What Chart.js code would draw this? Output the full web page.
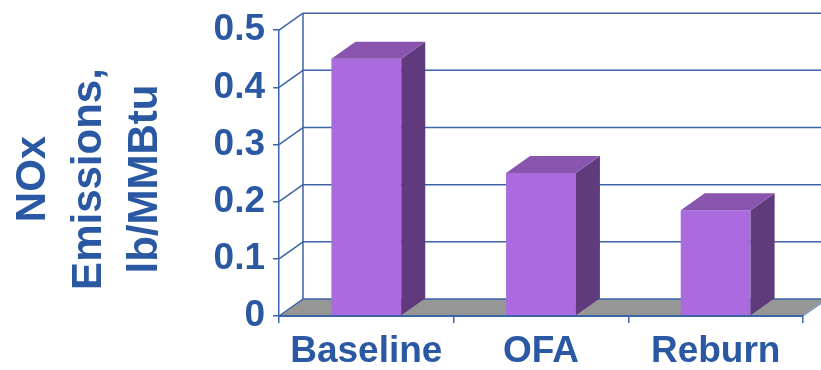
<!DOCTYPE html>
<html lang="en">
<head>
<meta charset="UTF-8">
<title>NOx Emissions</title>
<script src="https://cdn.jsdelivr.net/npm/chart.js"></script>
<style>
  body { margin: 0; background: #fff; }
</style>
</head>
<body>
<canvas id="noxChart" width="821" height="370"></canvas>
<script>
    const categories = ["Baseline", "OFA", "Reburn"];
    const noxValues = [0.45, 0.25, 0.185];
    const yTitleLines = ["NOx", "Emissions,", "lb/MMBtu"];
    const yMin = 0, yMax = 0.5, yStep = 0.1;

    const BLUE = "#2b58a3";
    const LINE = "#3d63a8";
    const depth = { dx: 24, dy: 17 }; // 3D offset of the back wall

    // walls, floor and the rotated axis title go under everything
    const wallsPlugin = {
        id: "walls",
        beforeDraw(chart) {
            const { ctx, chartArea: a, scales: { y } } = chart;
            const dx = depth.dx, dy = depth.dy;
            ctx.save();

            // grey floor
            ctx.fillStyle = "#969696";
            ctx.beginPath();
            ctx.moveTo(a.left, a.bottom);
            ctx.lineTo(a.right, a.bottom);
            ctx.lineTo(a.right + dx, a.bottom - dy);
            ctx.lineTo(a.left + dx, a.bottom - dy);
            ctx.closePath();
            ctx.fill();

            ctx.strokeStyle = LINE;
            ctx.lineWidth = 1.5;
            // back wall gridlines + side wall diagonals
            y.ticks.forEach(t => {
                const py = y.getPixelForValue(t.value);
                ctx.beginPath();
                ctx.moveTo(a.left + dx, py - dy);
                ctx.lineTo(a.right + dx, py - dy);
                ctx.stroke();
                ctx.beginPath();
                ctx.moveTo(a.left, py);
                ctx.lineTo(a.left + dx, py - dy);
                ctx.stroke();
            });
            // back left edge
            ctx.beginPath();
            ctx.moveTo(a.left + dx, a.top - dy);
            ctx.lineTo(a.left + dx, a.bottom - dy);
            ctx.stroke();
            // right edge of floor
            ctx.strokeStyle = "#8aa0c8";
            ctx.beginPath();
            ctx.moveTo(a.right, a.bottom);
            ctx.lineTo(a.right + dx, a.bottom - dy);
            ctx.stroke();

            // y axis title, three rotated lines
            ctx.fillStyle = BLUE;
            ctx.font = "bold 42px 'Liberation Sans', Arial, sans-serif";
            ctx.textAlign = "center";
            ctx.textBaseline = "alphabetic";
            const baselines = [45, 101, 157];
            yTitleLines.forEach((line, i) => {
                ctx.save();
                ctx.translate(baselines[i], 179);
                ctx.rotate(-Math.PI / 2);
                ctx.fillText(line, 0, 0);
                ctx.restore();
            });
            ctx.restore();
        },
        // top and side faces of each bar
        afterDatasetsDraw(chart) {
            const { ctx } = chart;
            const dx = depth.dx, dy = depth.dy;
            ctx.save();
            chart.getDatasetMeta(0).data.forEach(bar => {
                const p = bar.getProps(["x", "y", "width", "base"], true);
                const left = p.x - p.width / 2, right = p.x + p.width / 2;
                // side
                ctx.fillStyle = "#5f3a7c";
                ctx.beginPath();
                ctx.moveTo(right, p.y);
                ctx.lineTo(right + dx, p.y - dy);
                ctx.lineTo(right + dx, p.base - dy);
                ctx.lineTo(right, p.base);
                ctx.closePath();
                ctx.fill();
                // top
                ctx.fillStyle = "#8a55ae";
                ctx.beginPath();
                ctx.moveTo(left, p.y);
                ctx.lineTo(left + dx, p.y - dy);
                ctx.lineTo(right + dx, p.y - dy);
                ctx.lineTo(right, p.y);
                ctx.closePath();
                ctx.fill();
            });
            ctx.restore();
        }
    };

    new Chart(document.getElementById("noxChart"), {
        type: "bar",
        data: {
            labels: categories,
            datasets: [{
                data: noxValues,
                backgroundColor: "#a96bdd",
                borderWidth: 0,
                barPercentage: 0.4,
                categoryPercentage: 1
            }]
        },
        options: {
            responsive: false,
            animation: false,
            layout: { padding: { top: 27, right: 18, left: 0, bottom: 0 } },
            plugins: { legend: { display: false }, tooltip: { enabled: false } },
            scales: {
                x: {
                    afterFit(scale) { scale.height = 54; },
                    grid: { drawOnChartArea: false, tickLength: 7, color: LINE, lineWidth: 1.5 },
                    border: { color: LINE, width: 2, z: 1 },
                    ticks: {
                        color: BLUE, padding: 7,
                        font: { family: "'Liberation Sans', Arial, sans-serif", size: 37, weight: "bold" }
                    }
                },
                y: {
                    min: yMin,
                    max: yMax,
                    afterFit(scale) { scale.width = 279; },
                    grid: { drawOnChartArea: false, tickLength: 6, color: LINE, lineWidth: 1.5 },
                    border: { color: LINE, width: 1.5 },
                    ticks: {
                        stepSize: yStep, color: BLUE, padding: 8,
                        font: { family: "'Liberation Sans', Arial, sans-serif", size: 37, weight: "bold" }
                    }
                }
            }
        },
        plugins: [wallsPlugin]
    });
</script>
</body>
</html>
